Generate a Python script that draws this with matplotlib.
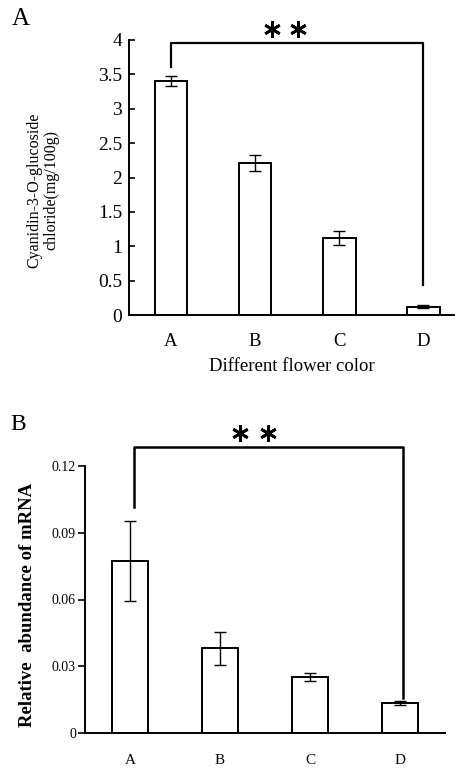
import matplotlib.pyplot as plt
import numpy as np

plt.rcParams['font.family'] = ['Liberation Serif', 'DejaVu Serif']

groups = ['A', 'B', 'C', 'D']
cyanidin = [3.40, 2.21, 1.12, 0.12]
cyanidin_err = [0.07, 0.12, 0.10, 0.02]
mrna = [0.0775, 0.038, 0.025, 0.0135]
mrna_err = [0.018, 0.0073, 0.0018, 0.0009]

W, H = 456, 768
x = np.arange(len(groups))

fig = plt.figure(figsize=(W / 100, H / 100), dpi=100)

# ---- panel A
ax1 = fig.add_axes([129/W, 1-315/H, 327/W, 275/H])
ax1.bar(x, cyanidin, width=0.39, color='white', edgecolor='black', linewidth=1.4,
        yerr=cyanidin_err, error_kw=dict(ecolor='black', elinewidth=1, capsize=4, capthick=1))
ax1.set_xlim(-0.5, 3.39)
ax1.set_ylim(0, 4)
ax1.set_yticks(np.arange(0, 4.01, 0.5))
ax1.set_yticklabels(['0', '0.5', '1', '1.5', '2', '2.5', '3', '3.5', '4'])
ax1.set_xticks(x)
ax1.set_xticklabels(groups)
ax1.tick_params(axis='x', length=0, pad=13, labelsize=13.5)
ax1.tick_params(axis='y', direction='in', length=4.5, width=1.2, labelsize=14, pad=5)
for s in ['top', 'right']:
    ax1.spines[s].set_visible(False)
for s in ['left', 'bottom']:
    ax1.spines[s].set_linewidth(1.4)
fig.text(292/W, 1-367/H, 'Different flower color', fontsize=13.5, ha='center', va='center')
fig.text(43/W, 1-190/H, 'Cyanidin-3-O-glucoside\nchloride(mg/100g)', fontsize=11.5,
         rotation=90, ha='center', va='center', linespacing=1.1)
ax1.plot([0, 0, 3, 3], [3.61, 3.956, 3.956, 0.44], color='black', lw=1.6, clip_on=False)
ax1.plot([1.2, 1.51], [4.16, 4.16], ls='none', marker=(6, 2, 0), ms=12, mew=2,
         color='black', clip_on=False)
fig.text(21/W, 1-19/H, 'A', fontsize=18, ha='center', va='center')

# ---- panel B
ax2 = fig.add_axes([85/W, 1-733/H, 360/W, 267/H])
ax2.bar(x, mrna, width=0.4, color='white', edgecolor='black', linewidth=1.4,
        yerr=mrna_err, error_kw=dict(ecolor='black', elinewidth=1, capsize=4, capthick=1))
ax2.set_xlim(-0.5, 3.5)
ax2.set_ylim(0, 0.12)
ax2.set_yticks([0, 0.03, 0.06, 0.09, 0.12])
ax2.set_yticklabels(['0', '0.03', '0.06', '0.09', '0.12'])
ax2.set_xticks(x)
ax2.set_xticklabels(groups)
ax2.tick_params(axis='x', length=0, pad=15, labelsize=11)
ax2.tick_params(axis='y', length=5, width=1.2, labelsize=10, pad=1.5)
for s in ['top', 'right']:
    ax2.spines[s].set_visible(False)
for s in ['left', 'bottom']:
    ax2.spines[s].set_linewidth(1.4)
fig.text(28/W, 1-605/H, 'Relative  abundance of mRNA', fontsize=13.5, fontweight='bold',
         rotation=90, ha='center', va='center')
ax2.plot([0.05, 0.05, 3.03, 3.03], [0.1016, 0.1285, 0.1285, 0.0157], color='black',
         lw=1.8, clip_on=False)
ax2.plot([1.22, 1.53], [0.1348, 0.1348], ls='none', marker=(6, 2, 0), ms=12, mew=2,
         color='black', clip_on=False)
fig.text(18/W, 1-425/H, 'B', fontsize=17, ha='center', va='center')

fig.savefig('out.png', dpi=100)
